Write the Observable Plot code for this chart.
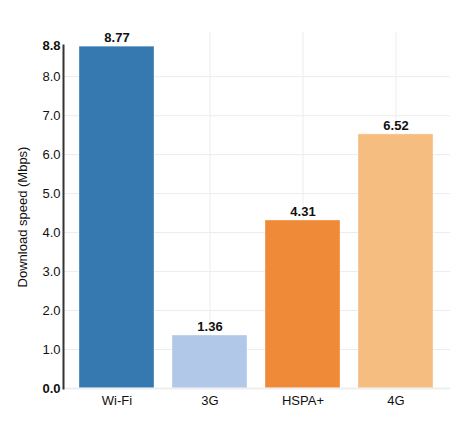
<!DOCTYPE html>
<html>
<head>
<meta charset="utf-8">
<script src="https://cdn.jsdelivr.net/npm/d3@7"></script>
<script src="https://cdn.jsdelivr.net/npm/@observablehq/plot@0.6"></script>
<style>
  body { margin: 0; background: #fff; }
  #chart { font-family: "Liberation Sans", Arial, sans-serif; }
</style>
</head>
<body>
<div id="chart"></div>
<script>
const networks = ["Wi-Fi", "3G", "HSPA+", "4G"];
const speeds = [8.77, 1.36, 4.31, 6.52];
const gridTicks = [1, 2, 3, 4, 5, 6, 7, 8];
const endTicks = [0, 8.8];

const rows = networks.map((name, i) => ({ name, speed: speeds[i] }));

const chart = Plot.plot({
  width: 468,
  height: 427,
  marginLeft: 63,
  marginRight: 18,
  marginTop: 45,
  marginBottom: 39,
  style: { fontFamily: "Liberation Sans, Arial, sans-serif", fontSize: "13px", color: "#111" },
  x: { domain: networks, paddingInner: 0.19, paddingOuter: 0.16 },
  y: { domain: [0, 8.8] },
  color: { domain: networks, range: ["#3679b1", "#b2c8e8", "#ef8a38", "#f6bd80"] },
  marks: [
    Plot.gridY(gridTicks, { stroke: "#ececec", strokeOpacity: 1 }),
    Plot.gridX(networks, { stroke: "#ececec", strokeOpacity: 1, insetTop: -13 }),
    Plot.barY(rows, {
      x: "name",
      y: "speed",
      fill: "name",
      stroke: "white",
      strokeOpacity: 0.35,
      strokeWidth: 1
    }),
    Plot.text(rows, {
      x: "name",
      y: "speed",
      text: (d) => d.speed.toFixed(2),
      dy: -9,
      fontWeight: "bold",
      fontSize: 13,
      fill: "#111"
    }),
    Plot.ruleY([0], { stroke: "#eeeeee", strokeWidth: 2 }),
    Plot.frame({ anchor: "left", stroke: "#333", strokeWidth: 2 }),
    Plot.axisX({ tickSize: 0, tickPadding: 7, fontSize: 13, label: null }),
    Plot.axisY(gridTicks, {
      tickSize: 0,
      tickPadding: 3,
      tickFormat: (d) => d.toFixed(1),
      fontSize: 13,
      label: "Download speed (Mbps)",
      labelAnchor: "center",
      labelArrow: "none",
      labelOffset: 46
    }),
    Plot.axisY(endTicks, {
      tickSize: 0,
      tickPadding: 3,
      tickFormat: (d) => d.toFixed(1),
      fontSize: 13,
      fontWeight: "bold",
      label: null
    })
  ]
});

document.getElementById("chart").appendChild(chart);
</script>
</body>
</html>
